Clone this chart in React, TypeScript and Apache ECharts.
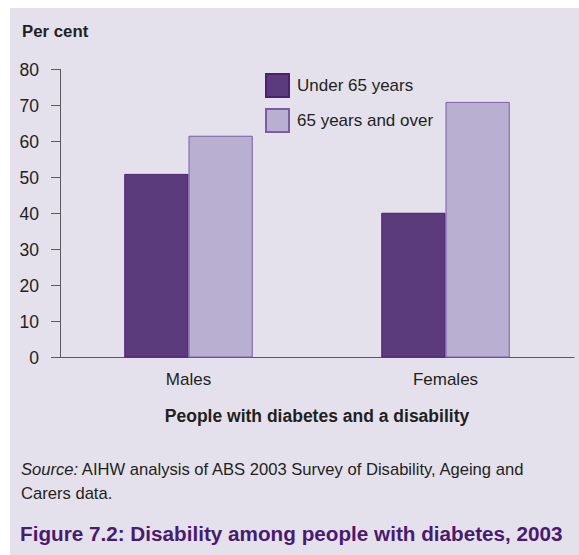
import React, { useEffect, useRef } from "react";
import * as echarts from "echarts";

const categories = ["Males", "Females"];
const seriesNames = ["Under 65 years", "65 years and over"];
const under65 = [51, 40.2];
const over65 = [61.6, 71];
const yTicks = { min: 0, max: 80, interval: 10 };

const FONT = "'Liberation Sans', Arial, sans-serif";
const INK = "#231f20";

export default function App() {
  const ref = useRef<HTMLDivElement>(null);
  useEffect(() => {
    document.body.style.margin = "0";
    const chart = echarts.init(ref.current!, null, { renderer: "svg" });
    chart.setOption({
      animation: false,
      backgroundColor: "#ffffff",
      textStyle: { fontFamily: FONT },
      graphic: [
        {
          type: "rect",
          z: -10,
          shape: { x: 10, y: 8, width: 569, height: 547 },
          style: { fill: "#e4e1ed" },
          silent: true,
        },
        {
          type: "text",
          x: 22,
          y: 31,
          style: {
            text: "Per cent",
            font: `bold 16.8px ${FONT}`,
            fill: INK,
            textVerticalAlign: "middle",
          },
        },
        {
          type: "text",
          x: 21,
          y: 469,
          style: {
            rich: {
              i: { fontStyle: "italic", fontSize: 16.6, fontFamily: FONT, fill: INK },
              n: { fontSize: 16.6, fontFamily: FONT, fill: INK },
            },
            text: "{i|Source:}{n| AIHW analysis of ABS 2003 Survey of Disability, Ageing and}",
            textVerticalAlign: "middle",
          },
        },
        {
          type: "text",
          x: 21,
          y: 493,
          style: {
            text: "Carers data.",
            font: `16.6px ${FONT}`,
            fill: INK,
            textVerticalAlign: "middle",
          },
        },
        {
          type: "text",
          x: 20,
          y: 533,
          style: {
            text: "Figure 7.2: Disability among people with diabetes, 2003",
            font: `bold 20.7px ${FONT}`,
            fill: "#4b1a6e",
            textVerticalAlign: "middle",
          },
        },
      ],
      legend: {
        orient: "vertical",
        left: 260,
        top: 68,
        itemWidth: 23,
        itemHeight: 23,
        itemGap: 10,
        icon: "rect",
        textStyle: { fontSize: 17, color: INK, fontFamily: FONT, padding: [0, 0, 0, 3] },
        data: seriesNames,
      },
      grid: { left: 60, right: 5, top: 69.5, bottom: 197.5, containLabel: false },
      xAxis: {
        type: "category",
        data: categories,
        axisLine: { lineStyle: { color: "#58595b", width: 1 } },
        axisTick: { show: false },
        axisLabel: { fontSize: 17, color: INK, margin: 13, fontFamily: FONT },
        name: "People with diabetes and a disability",
        nameLocation: "middle",
        nameGap: 49,
        nameTextStyle: { fontSize: 17.5, fontWeight: "bold", color: INK, fontFamily: FONT },
      },
      yAxis: {
        type: "value",
        min: yTicks.min,
        max: yTicks.max,
        interval: yTicks.interval,
        axisLine: { show: true, lineStyle: { color: "#58595b", width: 1 } },
        axisTick: { show: true, length: 9, lineStyle: { color: "#58595b" } },
        splitLine: { show: false },
        axisLabel: { fontSize: 17.5, color: INK, margin: 21, fontFamily: FONT },
      },
      series: [
        {
          name: seriesNames[0],
          type: "bar",
          data: under65,
          barGap: "0%",
          barCategoryGap: "50%",
          itemStyle: { color: "#5c3b7c", borderColor: "#4a2172", borderWidth: 1 },
        },
        {
          name: seriesNames[1],
          type: "bar",
          data: over65,
          barGap: "0%",
          barCategoryGap: "50%",
          itemStyle: { color: "#b9afd0", borderColor: "#7b5ca6", borderWidth: 1 },
        },
      ],
    });
    return () => chart.dispose();
  }, []);
  return <div ref={ref} style={{ width: 579, height: 555 }} />;
}
